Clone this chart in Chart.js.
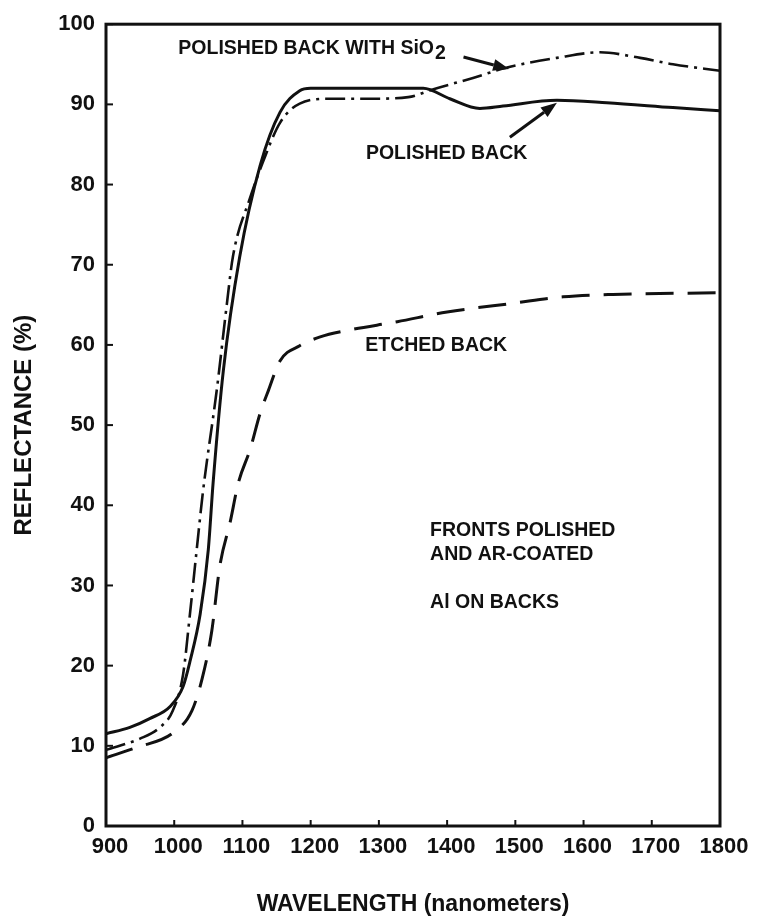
<!DOCTYPE html>
<html>
<head>
<meta charset="utf-8">
<script src="https://cdn.jsdelivr.net/npm/chart.js@4/dist/chart.umd.min.js"></script>
<style>
  html, body { margin: 0; padding: 0; background: #fff; }
  #wrap { width: 764px; height: 921px; position: relative; }
</style>
</head>
<body>
<div id="wrap"><canvas id="c"></canvas></div>
<script>
// ---- data ----
const xTicks = [900, 1000, 1100, 1200, 1300, 1400, 1500, 1600, 1700, 1800];
const yTicks = [0, 10, 20, 30, 40, 50, 60, 70, 80, 90, 100];

const polishedX = [900, 935, 964, 994, 1013, 1023, 1038, 1050, 1057, 1072, 1096, 1126, 1155, 1184, 1200, 1300, 1365, 1404, 1448, 1482, 1561, 1634, 1731, 1800];
const polishedY = [11.5, 12.3, 13.4, 14.9, 17.4, 20.5, 26.4, 34.5, 42.8, 56.8, 71.0, 82.4, 89.0, 91.7, 92.0, 92.0, 92.0, 90.7, 89.5, 89.8, 90.5, 90.2, 89.6, 89.2];

const sio2X = [900, 950, 979, 998, 1013, 1023, 1033, 1042, 1063, 1077, 1086, 1111, 1130, 1155, 1184, 1228, 1283, 1343, 1380, 1438, 1488, 1561, 1624, 1683, 1731, 1800];
const sio2Y = [9.5, 10.9, 12.3, 14.4, 18.9, 26.4, 34.5, 41.6, 54.8, 65.0, 71.0, 78.3, 82.8, 87.7, 90.1, 90.7, 90.7, 90.9, 91.9, 93.3, 94.6, 95.8, 96.5, 95.8, 95.0, 94.2];

const etchedX = [900, 945, 998, 1026, 1041, 1055, 1067, 1082, 1094, 1111, 1126, 1138, 1155, 1184, 1214, 1253, 1327, 1400, 1497, 1570, 1643, 1800];
const etchedY = [8.5, 9.8, 11.6, 14.4, 18.4, 24.3, 32.5, 37.9, 42.8, 46.9, 51.5, 54.3, 58.0, 59.9, 61.0, 61.8, 62.9, 64.1, 65.2, 66.0, 66.3, 66.5];

const seriesNames = ["POLISHED BACK", "POLISHED BACK WITH SiO2", "ETCHED BACK"];
const xTitle = "WAVELENGTH (nanometers)";
const yTitle = "REFLECTANCE (%)";
const noteLines = ["FRONTS POLISHED", "AND AR-COATED", "Al ON BACKS"];

const toPts = (xs, ys) => xs.map((x, i) => ({ x: x, y: ys[i] }));

const INK = '#111';
const FONT = "'Liberation Sans', Arial, sans-serif";

const overlay = {
  id: 'overlay',
  afterDraw(chart) {
    const { ctx, chartArea: a, scales: { x, y } } = chart;
    ctx.save();
    // frame
    ctx.strokeStyle = INK;
    ctx.lineWidth = 3;
    ctx.strokeRect(a.left, a.top, a.right - a.left, a.bottom - a.top);
    // inward ticks
    ctx.lineWidth = 2;
    xTicks.forEach(v => {
      const px = x.getPixelForValue(v);
      ctx.beginPath(); ctx.moveTo(px, a.bottom); ctx.lineTo(px, a.bottom - 6); ctx.stroke();
    });
    yTicks.forEach(v => {
      const py = y.getPixelForValue(v);
      ctx.beginPath(); ctx.moveTo(a.left, py); ctx.lineTo(a.left + 7, py); ctx.stroke();
    });

    // text annotations (data coordinates)
    ctx.fillStyle = INK;
    ctx.textBaseline = 'middle';
    ctx.textAlign = 'left';
    ctx.font = "bold 19.5px " + FONT;
    const P = (dx, dy) => [x.getPixelForValue(dx), y.getPixelForValue(dy)];

    let [tx, ty] = P(1006, 97.0);
    const main = "POLISHED BACK WITH SiO";
    ctx.fillText(main, tx, ty);
    const w = ctx.measureText(main).width;
    ctx.fillText("2", tx + w + 1, ty + 5);

    [tx, ty] = P(1281, 83.9); ctx.fillText(seriesNames[0], tx, ty);
    [tx, ty] = P(1280, 59.9); ctx.fillText(seriesNames[2], tx, ty);
    [tx, ty] = P(1375, 36.8); ctx.fillText(noteLines[0], tx, ty);
    [tx, ty] = P(1375, 33.8); ctx.fillText(noteLines[1], tx, ty);
    [tx, ty] = P(1375, 27.8); ctx.fillText(noteLines[2], tx, ty);

    // arrows
    const arrow = (x0, y0, x1, y1) => {
      const [ax, ay] = P(x0, y0), [bx, by] = P(x1, y1);
      const ang = Math.atan2(by - ay, bx - ax);
      const L = 16, W = 6;
      const hx = bx - L * Math.cos(ang), hy = by - L * Math.sin(ang);
      ctx.lineWidth = 3;
      ctx.beginPath(); ctx.moveTo(ax, ay); ctx.lineTo(hx, hy); ctx.stroke();
      ctx.beginPath();
      ctx.moveTo(bx, by);
      ctx.lineTo(hx + W * Math.sin(ang), hy - W * Math.cos(ang));
      ctx.lineTo(hx - W * Math.sin(ang), hy + W * Math.cos(ang));
      ctx.closePath(); ctx.fill();
    };
    arrow(1424, 95.9, 1491, 94.4);
    arrow(1492, 85.9, 1561, 90.2);
    ctx.restore();
  }
};

new Chart(document.getElementById('c'), {
  type: 'line',
  data: {
    datasets: [
      { label: seriesNames[0], data: toPts(polishedX, polishedY), borderColor: INK, borderWidth: 3,
        pointRadius: 0, cubicInterpolationMode: 'monotone', fill: false },
      { label: seriesNames[1], data: toPts(sio2X, sio2Y), borderColor: INK, borderWidth: 2.6,
        borderDash: [20, 6, 3, 6], pointRadius: 0, cubicInterpolationMode: 'monotone', fill: false },
      { label: seriesNames[2], data: toPts(etchedX, etchedY), borderColor: INK, borderWidth: 3,
        borderDash: [28, 14], pointRadius: 0, cubicInterpolationMode: 'monotone', fill: false }
    ]
  },
  options: {
    responsive: true,
    maintainAspectRatio: false,
    animation: false,
    layout: { padding: { left: 0, top: 18, right: 44, bottom: 0 } },
    plugins: { legend: { display: false }, tooltip: { enabled: false } },
    scales: {
      x: {
        type: 'linear', min: 900, max: 1800,
        afterBuildTicks: s => { s.ticks = xTicks.map(v => ({ value: v })); },
        afterFit: s => { s.height = 95; },
        grid: { display: false, drawTicks: false },
        border: { display: false },
        ticks: { color: INK, padding: 8, labelOffset: 4, maxRotation: 0, autoSkip: false,
                 callback: v => String(v),
                 font: { family: FONT, size: 22, weight: 'bold' } },
        title: { display: true, text: xTitle, color: INK, padding: { top: 0, bottom: 3 },
                 font: { family: FONT, size: 23, weight: 'bold' } }
      },
      y: {
        type: 'linear', min: 0, max: 100,
        afterBuildTicks: s => { s.ticks = yTicks.map(v => ({ value: v })); },
        afterFit: s => { s.width = 106; },
        grid: { display: false, drawTicks: false },
        border: { display: false },
        ticks: { color: INK, padding: 11, autoSkip: false,
                 callback: v => String(v),
                 font: { family: FONT, size: 22, weight: 'bold' } },
        title: { display: true, text: yTitle, color: INK, padding: { top: 10, bottom: 0 },
                 font: { family: FONT, size: 24, weight: 'bold' } }
      }
    }
  },
  plugins: [overlay]
});
</script>
</body>
</html>
